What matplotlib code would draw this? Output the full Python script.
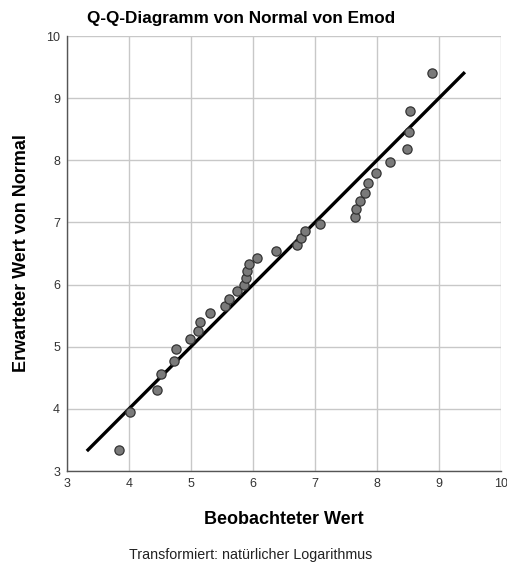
import numpy as np
import matplotlib.pyplot as plt

plt.rcParams['font.family'] = ['Liberation Sans', 'DejaVu Sans']

observed = [3.84, 4.01, 4.46, 4.52, 4.73, 4.76, 4.99, 5.11, 5.15, 5.30,
            5.55, 5.62, 5.75, 5.85, 5.89, 5.90, 5.94, 6.07, 6.38, 6.71,
            6.78, 6.84, 7.08, 7.65, 7.67, 7.73, 7.81, 7.86, 7.98, 8.21,
            8.49, 8.52, 8.53, 8.89]
expected = [3.34, 3.95, 4.31, 4.56, 4.77, 4.96, 5.12, 5.26, 5.40, 5.54,
            5.66, 5.77, 5.89, 5.99, 6.10, 6.22, 6.33, 6.43, 6.54, 6.64,
            6.75, 6.87, 6.98, 7.09, 7.22, 7.35, 7.48, 7.63, 7.80, 7.98,
            8.19, 8.45, 8.80, 9.41]
ref_line = [3.34, 9.40]
ticks = [3, 4, 5, 6, 7, 8, 9, 10]

fig = plt.figure(figsize=(5.07, 5.63), dpi=100)
ax = fig.add_axes([0.132, 0.1634, 0.856, 0.7726])

ax.plot(ref_line, ref_line, color='black', lw=2.4, zorder=2)
ax.scatter(observed, expected, s=44, facecolor='#7a7a7a', edgecolor='#333333',
           linewidth=0.9, zorder=3)

ax.set_xlim(3, 10)
ax.set_ylim(3, 10)
ax.set_xticks(ticks)
ax.set_yticks(ticks)
ax.grid(True, color='#c8c8c8', lw=1.0)
ax.set_axisbelow(True)
ax.tick_params(length=0, labelsize=9, colors='#333333', pad=5)
for s in ['top', 'right']:
    ax.spines[s].set_visible(False)
for s in ['left', 'bottom']:
    ax.spines[s].set_color('#555555')
    ax.spines[s].set_linewidth(1.0)

fig.text(241 / 507, 1 - 18 / 563, 'Q-Q-Diagramm von Normal von Emod',
         ha='center', va='center', fontsize=12.3, fontweight='bold')
fig.text(284 / 507, 1 - 520 / 563, 'Beobachteter Wert',
         ha='center', va='center', fontsize=13, fontweight='bold')
fig.text(22 / 507, 1 - 253 / 563, 'Erwarteter Wert von Normal',
         ha='center', va='center', rotation=90, fontsize=13, fontweight='bold')
fig.text(251 / 507, 1 - 555 / 563, 'Transformiert: natürlicher Logarithmus',
         ha='center', va='center', fontsize=10.3, color='#222222')

fig.savefig('out.png', dpi=100)
